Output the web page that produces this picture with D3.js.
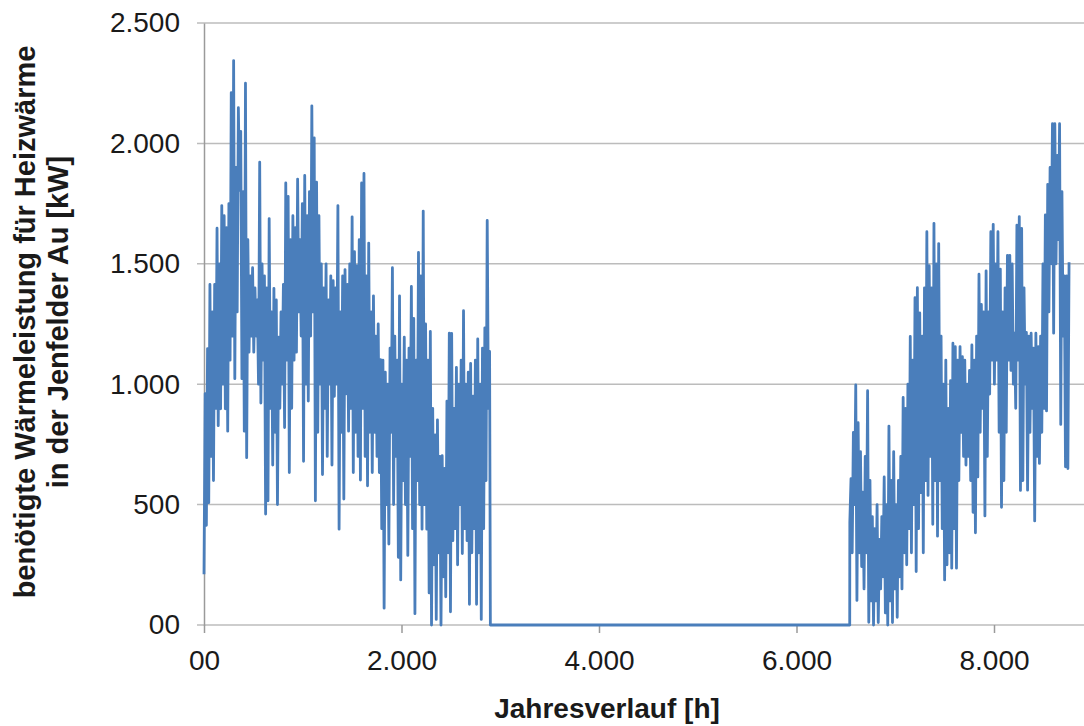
<!DOCTYPE html>
<html>
<head>
<meta charset="utf-8">
<title>Wärmeleistung Jenfelder Au</title>
<script src="https://d3js.org/d3.v7.min.js"></script>
<style>
  body { margin: 0; background: #fff; }
  text { font-family: "Liberation Sans", Arial, sans-serif; }
</style>
</head>
<body>
<script>

// heat demand: for every day a night trough (0:00) and a day peak (12:00), kW
var winterStart = 0;      // first heating period, hour
var summerStart = 2900;   // heating switched off
var autumnStart = 6540;   // heating switched on again

var winterTrough = [
  211, 414, 508, 700, 600, 900, 828, 898, 1000, 898,
  805, 1100, 1200, 1023, 1300, 1805, 1023, 805, 695, 1133,
  1200, 1133, 1200, 1000, 922, 1100, 461, 516, 900, 664,
  800, 500, 900, 1000, 820, 1100, 633, 900, 1100, 1133,
  1300, 1200, 680, 1000, 930, 1200, 1300, 516, 800, 1000,
  625, 900, 700, 1000, 664, 950, 1000, 398, 800, 523,
  960, 805, 900, 633, 800, 700, 602, 900, 700, 578,
  800, 633, 800, 700, 633, 400, 70, 500, 336, 800,
  500, 700, 281, 187, 600, 500, 289, 700, 400, 47,
  600, 500, 398, 500, 398, 133, 0, 250, 23, 300,
  0, 200, 117, 300, 55, 350, 400, 250, 500, 297,
  400, 350, 86, 300, 400, 86, 300, 23, 400, 600,
  900
];
var winterPeak = [
  961, 1148, 1414, 1300, 1414, 1648, 1500, 1742, 1700, 1650,
  1750, 2211, 2344, 1900, 2148, 2050, 1800, 2250, 1600, 1450,
  1484, 1400, 1350, 1922, 1500, 1450, 1400, 1688, 1300, 1398,
  1350, 1195, 1300, 1414, 1836, 1780, 1600, 1700, 1650, 1852,
  1600, 1750, 1867, 1700, 1800, 2156, 2023, 1839, 1700, 1500,
  1400, 1500, 1350, 1450, 1430, 1400, 1742, 1300, 1450, 1476,
  1414, 1500, 1695, 1550, 1492, 1600, 1836, 1875, 1450, 1586,
  1300, 1367, 1200, 1250, 1102, 1100, 1050, 1000, 1150, 1484,
  1200, 1100, 1367, 1000, 1195, 1100, 1150, 1406, 1273, 1100,
  1547, 1450, 1719, 1250, 1100, 1219, 900, 789, 852, 700,
  703, 650, 930, 1212, 1211, 900, 1070, 1000, 1100, 1305,
  1000, 1050, 1086, 950, 1100, 1188, 1000, 1150, 1234, 1680,
  1136
];

var autumnTrough = [
  425, 300, 500, 102, 300, 243, 150, 300, 11, 100,
  0, 100, 10, 150, 200, 50, 0, 100, 10, 150,
  32, 200, 150, 300, 250, 400, 300, 500, 222, 400,
  550, 300, 600, 538, 700, 418, 600, 369, 600, 400,
  187, 250, 300, 236, 400, 236, 600, 800, 700, 664,
  700, 600, 468, 383, 615, 800, 900, 453, 700, 959,
  1100, 1000, 1100, 800, 489, 600, 800, 1100, 1057, 1000,
  900, 1100, 559, 600, 1000, 560, 800, 900, 432, 700,
  671, 800, 900, 889, 1300, 1500, 1212, 1500, 1600, 833,
  1200, 657, 650
];
var autumnPeak = [
  608, 800, 997, 840, 720, 552, 700, 973, 601, 450,
  400, 500, 355, 450, 615, 500, 826, 600, 720, 500,
  600, 700, 945, 900, 1000, 1198, 1100, 1359, 1401, 1296,
  1200, 1400, 1633, 1492, 1400, 1668, 1500, 1584, 1200, 1000,
  1100, 900, 1015, 1170, 1156, 1100, 1156, 1114, 1100, 1000,
  1057, 1163, 1100, 1200, 1457, 1331, 1300, 1471, 1300, 1633,
  1664, 1500, 1633, 1478, 1300, 1400, 1535, 1535, 1500, 1212,
  1661, 1696, 1647, 1400, 1215, 1200, 1212, 1150, 1212, 1156,
  1200, 1500, 1703, 1830, 1900, 2082, 2082, 1950, 2082, 1800,
  1450, 1450, 1506
];

var xTicks = [0, 2000, 4000, 6000, 8000];
var yTicks = [0, 500, 1000, 1500, 2000, 2500];
var xTitle = "Jahresverlauf [h]";
var yTitle = ["benötigte Wärmeleistung für Heizwärme", "in der Jenfelder Au [kW]"];

// build the hourly series: trough at 0:00, peak at 12:00 of each day
var series = [];
function addDays(start, troughs, peaks) {
  troughs.forEach(function (t, i) {
    series.push([start + i * 24, t]);
    series.push([start + i * 24 + 12, peaks[i]]);
  });
}
addDays(winterStart, winterTrough, winterPeak);
series.push([summerStart, 0]);
series.push([autumnStart - 1, 0]);
addDays(autumnStart, autumnTrough, autumnPeak);

var W = 1084, H = 726;
var margin = { top: 23, left: 204 };
var plotW = 888.75, plotH = 602;

var fmt = function (d) {
  if (d === 0) return "00";
  return d3.format(",")(d).replace(/,/g, ".");
};

var svg = d3.select("body").append("svg")
  .attr("width", W)
  .attr("height", H);

var g = svg.append("g")
  .attr("transform", "translate(" + margin.left + "," + margin.top + ")");

var x = d3.scaleLinear().domain([0, 9000]).range([0, plotW]);
var y = d3.scaleLinear().domain([0, 2500]).range([plotH, 0]);

// gridlines
g.selectAll(".grid")
  .data(yTicks)
  .enter().append("line")
  .attr("class", "grid")
  .attr("x1", -7).attr("x2", plotW)
  .attr("y1", d => y(d)).attr("y2", d => y(d))
  .attr("stroke", "#bcbcbc")
  .attr("stroke-width", 1.5);

// y axis
var yAxis = g.append("g")
  .call(d3.axisLeft(y).tickValues(yTicks).tickFormat(fmt).tickSize(0).tickPadding(24));
yAxis.select(".domain").attr("stroke", "#9a9a9a").attr("stroke-width", 1.5);
yAxis.selectAll("text")
  .attr("font-size", 28)
  .attr("fill", "#1a1a1a");

// x axis
var xAxis = g.append("g")
  .attr("transform", "translate(0," + plotH + ")")
  .call(d3.axisBottom(x).tickValues(xTicks).tickFormat(fmt).tickSize(8).tickPadding(17));
xAxis.select(".domain").remove();
xAxis.selectAll(".tick line").attr("stroke", "#9a9a9a").attr("stroke-width", 1.5);
xAxis.selectAll("text")
  .attr("font-size", 28)
  .attr("fill", "#1a1a1a");

// the load curve
var line = d3.line()
  .x(d => x(d[0]))
  .y(d => y(d[1]));

g.append("path")
  .datum(series)
  .attr("fill", "none")
  .attr("stroke", "#4a7ebb")
  .attr("stroke-width", 2.8)
  .attr("stroke-linejoin", "round")
  .attr("d", line);

// axis titles
svg.append("text")
  .attr("x", 607)
  .attr("y", 718)
  .attr("text-anchor", "middle")
  .attr("font-size", 28)
  .attr("font-weight", "bold")
  .attr("fill", "#1a1a1a")
  .text(xTitle);

var yt = svg.append("text")
  .attr("transform", "translate(35,322) rotate(-90)")
  .attr("text-anchor", "middle")
  .attr("font-size", 29)
  .attr("font-weight", "bold")
  .attr("fill", "#1a1a1a");
yt.selectAll("tspan")
  .data(yTitle)
  .enter().append("tspan")
  .attr("x", 0)
  .attr("dy", (d, i) => i === 0 ? 0 : 33)
  .text(d => d);

</script>
</body>
</html>
